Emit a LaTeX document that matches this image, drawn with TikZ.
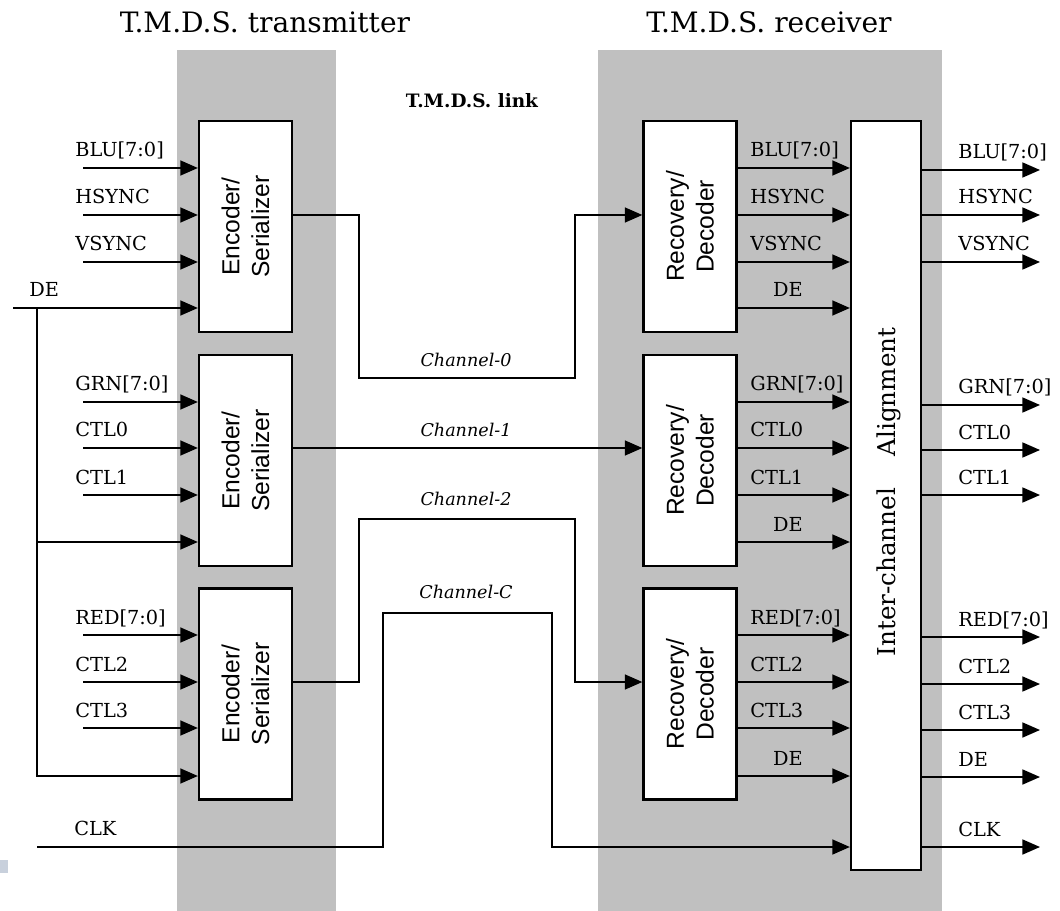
\documentclass[tikz,border=0pt]{standalone}
\usepackage{fontspec}
\setmainfont{DejaVu Serif}
\newfontfamily\sfx{Liberation Sans}
\usetikzlibrary{arrows.meta}
\definecolor{panel}{RGB}{192,192,192}
\definecolor{speck}{RGB}{200,208,220}
\begin{document}
\begin{tikzpicture}[x=0.02cm,y=-0.02cm,
  arr/.style={-{Triangle[length=10pt,width=8.5pt]}, line width=1pt},
  wire/.style={line width=1pt},
  blk/.style={draw, line width=1.3pt, fill=white, minimum width=1.86cm, minimum height=4.22cm, inner sep=0pt},
  lbl/.style={font=\fontsize{11}{13}\selectfont, inner sep=0pt, anchor=base west},
  clbl/.style={font=\fontsize{11}{13}\selectfont, inner sep=0pt, anchor=base},
  chl/.style={font=\itshape\fontsize{10}{12}\selectfont, inner sep=0pt, anchor=base},
  ttl/.style={font=\fontsize{16}{19}\selectfont, inner sep=0pt, anchor=base},
  rtxt/.style={rotate=90, align=center, font=\sfx\fontsize{14}{17}\selectfont, inner sep=0pt}
]
\useasboundingbox (0,0) rectangle (1060,911);
% panels
\fill[panel] (177,50) rectangle (336,911);
\fill[panel] (598,50) rectangle (942,911);
\fill[speck] (0,860) rectangle (8,873);

% titles
\node[ttl] (t1) at (265,33) {T.M.D.S. transmitter};
\node[ttl] (t2) at (769,33) {T.M.D.S. receiver};
\node[font=\bfseries\fontsize{10.5}{12}\selectfont, inner sep=0pt, anchor=base] (t3) at (472,108) {T.M.D.S. link};

% blocks
\node[blk] (enc1) at (245.5,226.5) {};
\node[blk] (enc2) at (245.5,460.5) {};
\node[blk] (enc3) at (245.5,694) {};
\node[blk] (rec1) at (690,226.5) {};
\node[blk] (rec2) at (690,460.5) {};
\node[blk] (rec3) at (690,694) {};
\node[blk, minimum width=1.4cm, minimum height=14.98cm] (align) at (886,495.5) {};

\node[rtxt] (enc1t) at (enc1) {Encoder/\\Serializer};
\node[rtxt] (enc2t) at (enc2) {Encoder/\\Serializer};
\node[rtxt] (enc3t) at (enc3) {Encoder/\\Serializer};
\node[rtxt] (rec1t) at (rec1) {Recovery/\\Decoder};
\node[rtxt] (rec2t) at (rec2) {Recovery/\\Decoder};
\node[rtxt] (rec3t) at (rec3) {Recovery/\\Decoder};
\node[rotate=90, font=\fontsize{14}{17}\selectfont, inner sep=0pt] (alignt) at (889,492) {Inter-channel\hspace{18pt}Alignment};

% inputs
\foreach \b/\yy/\t/\k in {enc1/168/{BLU[7:0]}/a, enc1/215/HSYNC/b, enc1/262/VSYNC/c,
  enc2/402/{GRN[7:0]}/d, enc2/448/CTL0/e, enc2/495/CTL1/f,
  enc3/635/{RED[7:0]}/g, enc3/682/CTL2/h, enc3/728/CTL3/i}{
  \coordinate (in\k) at (83,\yy);
  \draw[arr] (in\k) -- (in\k -| \b.west);
  \node[lbl] (inl\k) at (75,\yy-11) {\t};
}

% DE input
\coordinate (deS) at (13,308);
\coordinate (deJ) at (37,308);
\coordinate (deB2) at (37,542);
\coordinate (deB3) at (37,776);
\draw[arr] (deS) -- (deS -| enc1.west);
\draw[arr] (deJ) -- (deB3) -- (deB3 -| enc3.west);
\draw[arr] (deB2) -- (deB2 -| enc2.west);
\node[lbl] (del) at (29,297) {DE};

% CLK
\coordinate (clkS) at (37,847);
\node[lbl] (clkl) at (74,835) {CLK};
\draw[arr] (clkS) -- (383,847) -- (383,613) -- (552,613) -- (552,847) -- (align.west |- 0,847);

% channels
\draw[arr] (enc1.east |- 0,215) -- (359,215) -- (359,378) -- (575,378) -- (575,215) -- (rec1.west |- 0,215);
\draw[arr] (enc2.east |- 0,448) -- (rec2.west |- 0,448);
\draw[arr] (enc3.east |- 0,682) -- (359,682) -- (359,519) -- (575,519) -- (575,682) -- (rec3.west |- 0,682);
\node[chl] (ch0) at (466,367) {Channel-0};
\node[chl] (ch1) at (466,437) {Channel-1};
\node[chl] (ch2) at (466,505) {Channel-2};
\node[chl] (chc) at (466,598) {Channel-C};

% decoder outputs
\foreach \b/\yy/\t/\k in {rec1/168/{BLU[7:0]}/a, rec1/215/HSYNC/b, rec1/262/VSYNC/c,
  rec2/402/{GRN[7:0]}/d, rec2/448/CTL0/e, rec2/495/CTL1/f,
  rec3/635/{RED[7:0]}/g, rec3/682/CTL2/h, rec3/728/CTL3/i}{
  \draw[arr] (\b.east |- 0,\yy) -- (align.west |- 0,\yy);
  \node[lbl] (midl\k) at (750,\yy-11) {\t};
}
\foreach \b/\yy/\k in {rec1/308/a, rec2/542/b, rec3/776/c}{
  \draw[arr] (\b.east |- 0,\yy) -- (align.west |- 0,\yy);
  \node[clbl] (midde\k) at (788,\yy-11) {DE};
}

% final outputs
\foreach \yy/\t/\k in {170/{BLU[7:0]}/a, 215/HSYNC/b, 262/VSYNC/c,
  405/{GRN[7:0]}/d, 450/CTL0/e, 495/CTL1/f,
  637/{RED[7:0]}/g, 684/CTL2/h, 730/CTL3/i, 777/DE/j, 847/CLK/k}{
  \coordinate (out\k) at (1040,\yy);
  \draw[arr] (align.east |- out\k) -- (out\k);
  \node[lbl] (outl\k) at (958,\yy-11) {\t};
}
\end{tikzpicture}
\end{document}
